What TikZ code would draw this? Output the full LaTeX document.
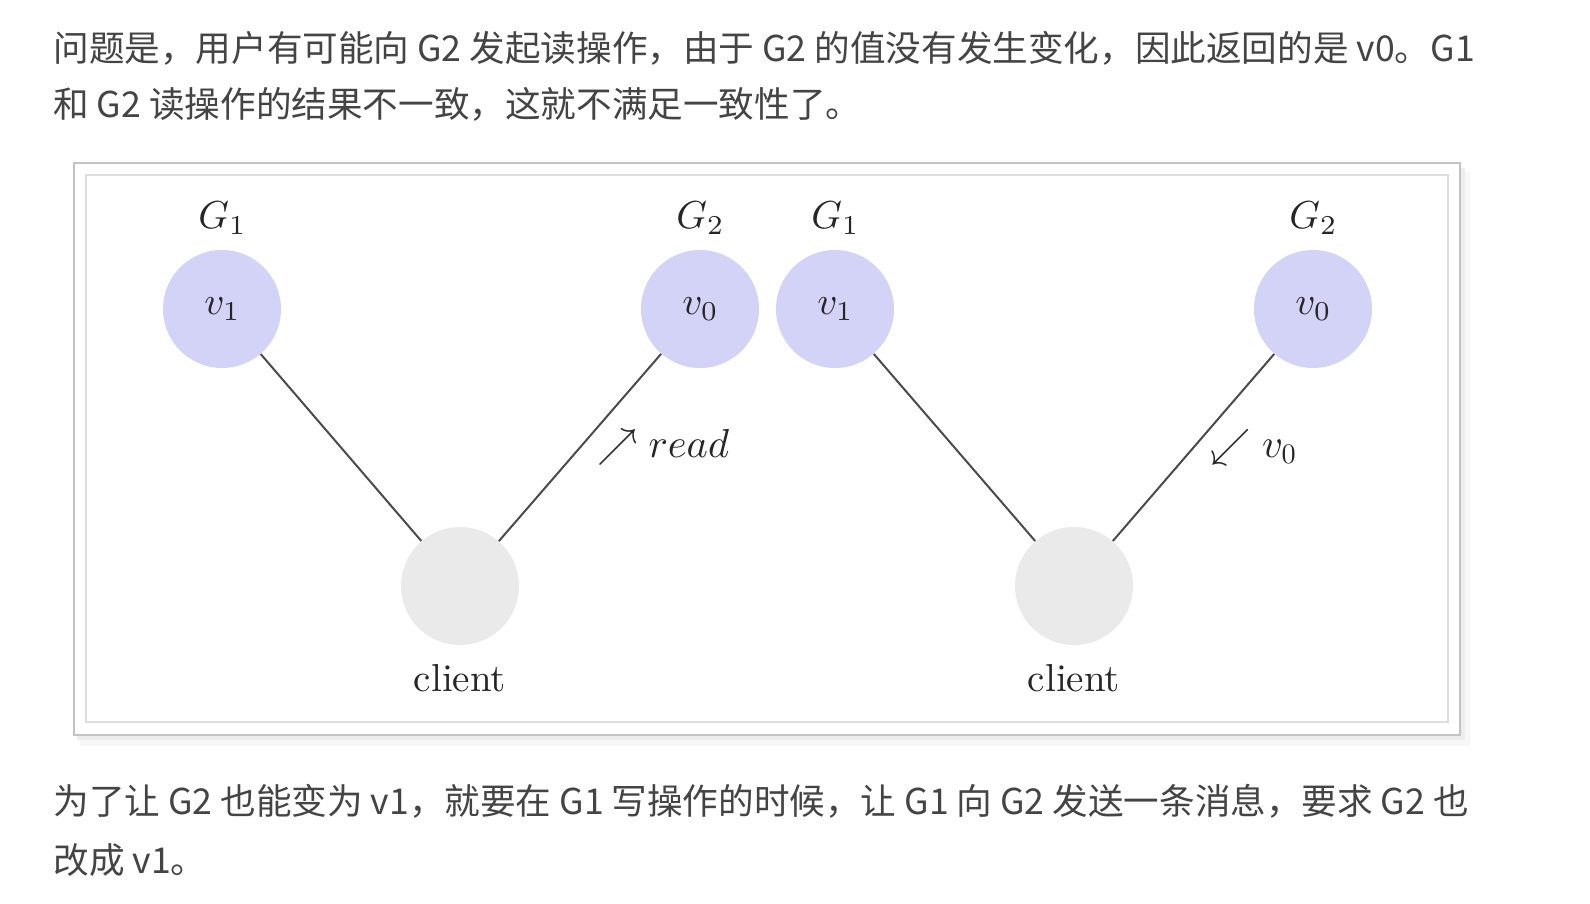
\documentclass[tikz,border=0pt]{standalone}
\usepackage{fontspec}
\newfontfamily\cjk{Noto Sans CJK SC}
\newfontfamily\lmten{lmroman10-regular.otf}
\DeclareFontShape{OT1}{cmr}{m}{n}{<-14>cmr7<14->cmr10}{}
\DeclareFontShape{OML}{cmm}{m}{it}{<-14>cmmi7<14->cmmi10}{\skewchar\font127}
\DeclareFontShape{OMS}{cmsy}{m}{n}{<-14>cmsy7<14->cmsy10}{\skewchar\font48}
\definecolor{nodeblue}{RGB}{211,211,247}
\definecolor{clientgray}{RGB}{234,234,234}
\definecolor{edgegray}{RGB}{75,75,75}
\definecolor{txtgray}{RGB}{68,68,68}
\definecolor{frameout}{RGB}{195,195,195}
\definecolor{framein}{RGB}{222,222,222}
\begin{document}
\begin{tikzpicture}[x=0.5pt,y=-0.5pt,
  para/.style={anchor=west,inner sep=0pt,text=txtgray,font=\cjk\fontsize{17.8}{22}\selectfont},
  srv/.style={circle,fill=nodeblue,minimum size=59pt,inner sep=0pt,text=black!85,font=\fontsize{19.5}{23}\selectfont},
  cli/.style={circle,fill=clientgray,minimum size=59pt,inner sep=0pt},
  lbl/.style={inner sep=0pt,text=black!85,font=\fontsize{19.5}{23}\selectfont},
  clbl/.style={inner sep=0pt,text=black!85,font=\lmten\fontsize{19.5}{23}\selectfont},
  edge/.style={draw=edgegray,line width=1pt},
  elbl/.style={right,inner sep=6pt,xshift=2pt,text=black!85,font=\fontsize{20.2}{24}\selectfont}]
\useasboundingbox[fill=white] (0,0) rectangle (1590,904);
% paragraph text
\node[para] (t1) at (53,48) {问题是，用户有可能向 G2 发起读操作，由于 G2 的值没有发生变化，因此返回的是 v0。G1};
\node[para] (t2) at (53,104) {和 G2 读操作的结果不一致，这就不满足一致性了。};
\node[para] (t3) at (53,801) {为了让 G2 也能变为 v1，就要在 G1 写操作的时候，让 G1 向 G2 发送一条消息，要求 G2 也};
\node[para] (t4) at (53,860) {改成 v1。};
% frame with shadow
\fill[black!3] (80,172) rectangle (1470,746);
\fill[black!7] (77,168) rectangle (1465,740);
\draw[frameout,line width=1pt,fill=white] (74,163) rectangle (1460,735);
\draw[framein,line width=1pt] (86,175) rectangle (1448,722);
% left diagram
\node[srv] (g1L) at (222,309) {$v_1$};
\node[srv] (g2L) at (700,309) {$v_0$};
\node[cli] (cL) at (460,586) {};
\node[lbl] (g1Ll) at (222,218) {$G_1$};
\node[lbl] (g2Ll) at (700,218) {$G_2$};
\node[clbl] (cLl) at (460,678) {client};
\draw[edge] (g1L) -- (cL);
\draw[edge] (g2L) -- node[elbl] {$\nearrow read$} (cL);
% right diagram
\node[srv] (g1R) at (835,309) {$v_1$};
\node[srv] (g2R) at (1313,309) {$v_0$};
\node[cli] (cR) at (1074,586) {};
\node[lbl] (g1Rl) at (835,218) {$G_1$};
\node[lbl] (g2Rl) at (1313,218) {$G_2$};
\node[clbl] (cRl) at (1074,678) {client};
\draw[edge] (g1R) -- (cR);
\draw[edge] (g2R) -- node[elbl] {$\swarrow v_0$} (cR);
\end{tikzpicture}
\end{document}
